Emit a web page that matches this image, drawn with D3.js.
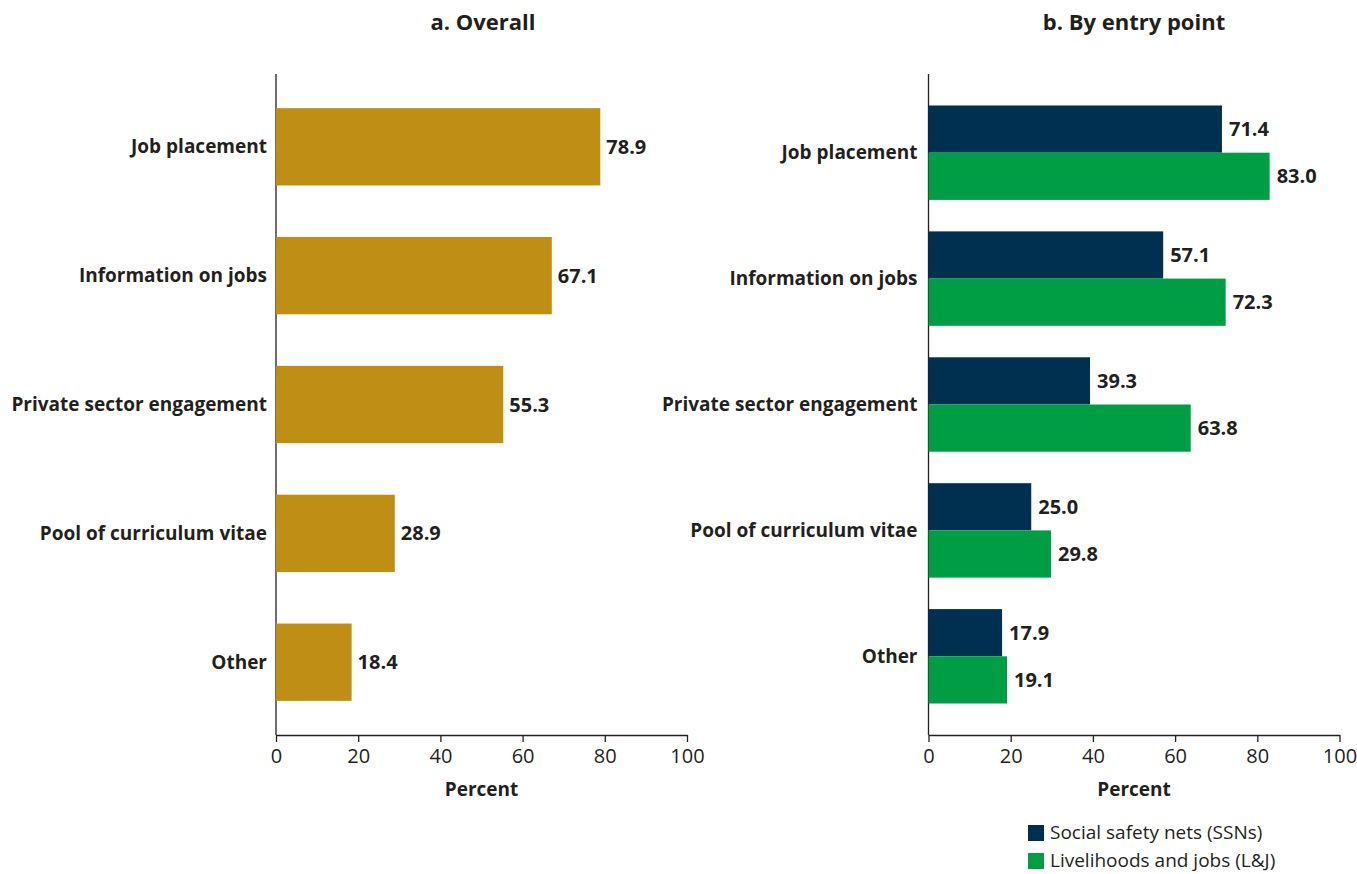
<!DOCTYPE html>
<html>
<head>
<meta charset="utf-8">
<script src="https://cdn.jsdelivr.net/npm/d3@7"></script>
<style>
  body { margin: 0; background: #fff; }
  text { font-family: "Open Sans", "Lato", sans-serif; fill: #231f20; }
  .axis path, .axis line { stroke: #231f20; stroke-width: 1.3px; }
</style>
</head>
<body>
<div id="chart"></div>
<script>
var categories = ["Job placement", "Information on jobs", "Private sector engagement", "Pool of curriculum vitae", "Other"];
var overall = [78.9, 67.1, 55.3, 28.9, 18.4];
var ssn = [71.4, 57.1, 39.3, 25.0, 17.9];
var lj = [83.0, 72.3, 63.8, 29.8, 19.1];
var seriesNames = ["Social safety nets (SSNs)", "Livelihoods and jobs (L&J)"];
var xTicks = [0, 20, 40, 60, 80, 100];

var W = 1357, H = 874;
var svg = d3.select("#chart").append("svg")
    .attr("width", W)
    .attr("height", H);

var plotTop = 74, plotBottom = 735;

// panel a
var xa = d3.scaleLinear().domain([0, 100]).range([276, 687]);
var ya = d3.scaleBand().domain(categories).range([plotTop, plotBottom]).paddingInner(0.4).paddingOuter(0.265);

// panel b
var xb = d3.scaleLinear().domain([0, 100]).range([928.5, 1339.5]);
var yb = d3.scaleBand().domain(categories).range([plotTop, plotBottom]).paddingInner(0.25).paddingOuter(0.25);
var ySub = d3.scaleBand().domain([0, 1]).range([0, yb.bandwidth()]);

var colors = ["#00304f", "#009e44"];
var gold = "#bf8e15";

function drawAxes(x, y, labelGap, titleText, titleX) {
  svg.append("g")
      .attr("class", "axis")
      .attr("transform", "translate(0," + plotBottom + ")")
      .call(d3.axisBottom(x).tickValues(xTicks).tickSize(7).tickSizeOuter(0).tickPadding(7))
      .call(function(g) {
        g.selectAll("text").style("font-size", "20px").style("font-family", "'Open Sans', sans-serif").attr("fill", "#231f20");
      });
  svg.append("line")
      .attr("x1", x(0)).attr("x2", x(0))
      .attr("y1", plotTop).attr("y2", plotBottom)
      .attr("stroke", "#231f20").attr("stroke-width", 1.3);
  svg.selectAll(null)
      .data(categories)
      .enter().append("text")
      .attr("x", x(0) - labelGap)
      .attr("y", function(d) { return y(d) + y.bandwidth() / 2; })
      .attr("dy", "0.35em")
      .attr("text-anchor", "end")
      .style("font-size", "19px")
      .style("font-weight", "bold")
      .text(function(d) { return d; });
  svg.append("text")
      .attr("x", (x(0) + x(100)) / 2)
      .attr("y", 796)
      .attr("text-anchor", "middle")
      .style("font-size", "19px")
      .style("font-weight", "bold")
      .text("Percent");
  svg.append("text")
      .attr("x", titleX)
      .attr("y", 30)
      .attr("text-anchor", "middle")
      .style("font-size", "22px")
      .style("font-weight", "bold")
      .text(titleText);
}

drawAxes(xa, ya, 9, "a. Overall", 483);
drawAxes(xb, yb, 11, "b. By entry point", 1134);

// bars a
svg.selectAll(".bar-a")
    .data(overall)
    .enter().append("rect")
    .attr("class", "bar-a")
    .attr("x", xa(0))
    .attr("y", function(d, i) { return ya(categories[i]); })
    .attr("width", function(d) { return xa(d) - xa(0); })
    .attr("height", ya.bandwidth())
    .attr("fill", gold);
svg.selectAll(".lab-a")
    .data(overall)
    .enter().append("text")
    .attr("class", "lab-a")
    .attr("x", function(d) { return xa(d) + 6; })
    .attr("y", function(d, i) { return ya(categories[i]) + ya.bandwidth() / 2; })
    .attr("dy", "0.35em")
    .style("font-size", "20px")
    .style("font-weight", "bold")
    .text(function(d) { return d.toFixed(1); });

// bars b
[ssn, lj].forEach(function(series, s) {
  var g = svg.append("g");
  g.selectAll("rect")
      .data(series)
      .enter().append("rect")
      .attr("x", xb(0))
      .attr("y", function(d, i) { return yb(categories[i]) + ySub(s); })
      .attr("width", function(d) { return xb(d) - xb(0); })
      .attr("height", ySub.bandwidth())
      .attr("fill", colors[s]);
  g.selectAll("text")
      .data(series)
      .enter().append("text")
      .attr("x", function(d) { return xb(d) + 7; })
      .attr("y", function(d, i) { return yb(categories[i]) + ySub(s) + ySub.bandwidth() / 2; })
      .attr("dy", "0.35em")
      .style("font-size", "20px")
      .style("font-weight", "bold")
      .text(function(d) { return d.toFixed(1); });
});

// legend
var legend = svg.selectAll(".legend")
    .data(seriesNames)
    .enter().append("g")
    .attr("class", "legend")
    .attr("transform", function(d, i) { return "translate(1028," + (825 + i * 28) + ")"; });
legend.append("rect")
    .attr("width", 16)
    .attr("height", 16)
    .attr("fill", function(d, i) { return colors[i]; });
legend.append("text")
    .attr("x", 22)
    .attr("y", 8)
    .attr("dy", "0.33em")
    .style("font-size", "19px")
    .text(function(d) { return d; });
</script>
</body>
</html>
